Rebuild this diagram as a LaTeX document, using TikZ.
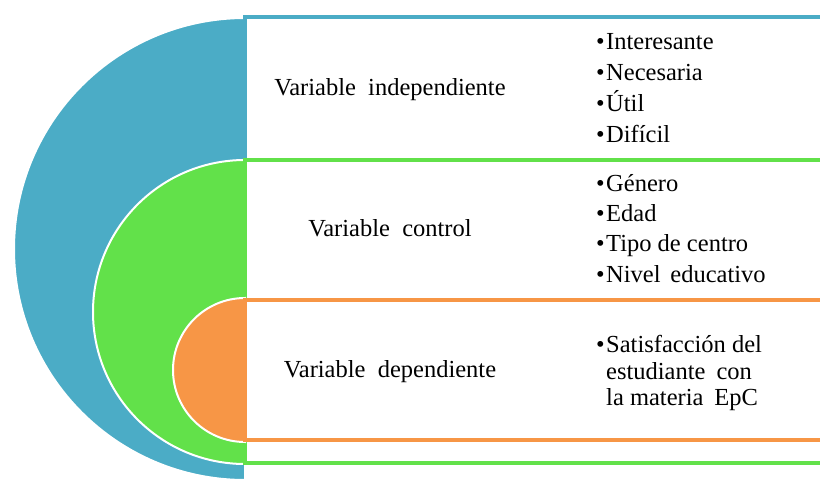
\documentclass[tikz,border=0pt]{standalone}
\usepackage{fontspec}
\setmainfont{Liberation Serif}
\newfontfamily\tnr{Liberation Serif}
\definecolor{cblue}{HTML}{4BACC6}
\definecolor{cgreen}{HTML}{62E14A}
\definecolor{corange}{HTML}{F79646}
\begin{document}
\begin{tikzpicture}[x=1pt,y=-1pt,
  halfdisc/.style={draw=white,line width=2pt},
  band/.style={fill=white,line width=3.6pt},
  lbl/.style={font=\tnr\fontsize{24.5}{30}\selectfont,anchor=base,inner sep=0pt},
  item/.style={font=\tnr\fontsize{24.5}{30}\selectfont,anchor=base west,inner sep=0pt}]
\useasboundingbox (0,0) rectangle (820,482);
\clip (0,0) rectangle (820,482);
% blue
\filldraw[fill=cblue,halfdisc] (245,18) arc[start angle=270,end angle=90,radius=231] -- cycle;
\draw[band,draw=cblue] (245,17) rectangle (850,463);
% green
\filldraw[fill=cgreen,halfdisc] (245,160) arc[start angle=270,end angle=90,radius=152] -- cycle;
\draw[band,draw=cgreen] (245,160) rectangle (850,463);
% orange
\filldraw[fill=corange,halfdisc] (245,298) arc[start angle=270,end angle=90,radius=72] -- cycle;
\draw[band,draw=corange] (245,300) rectangle (850,440);
% labels
\node[lbl] (vi) at (390,95) {Variable\hspace{0.5em}independiente};
\node[lbl] (vc) at (390,236) {Variable\hspace{0.5em}control};
\node[lbl] (vd) at (390,377) {Variable\hspace{0.5em}dependiente};
% items
\node[item] (i1) at (606,49) {\llap{•\kern1.5pt}Interesante};
\node[item] (i2) at (606,80) {\llap{•\kern1.5pt}Necesaria};
\node[item] (i3) at (606,111) {\llap{•\kern1.5pt}Útil};
\node[item] (i4) at (606,142) {\llap{•\kern1.5pt}Difícil};
\node[item] (c1) at (606,191) {\llap{•\kern1.5pt}Género};
\node[item] (c2) at (606,221) {\llap{•\kern1.5pt}Edad};
\node[item] (c3) at (606,251) {\llap{•\kern1.5pt}Tipo de centro};
\node[item] (c4) at (606,282) {\llap{•\kern1.5pt}Nivel\hspace{0.4em}educativo};
\node[item] (d1) at (606,352) {\llap{•\kern1.5pt}Satisfacción del};
\node[item] (d2) at (606,379) {estudiante\hspace{0.45em}con};
\node[item] (d3) at (606,405) {la materia\hspace{0.45em}EpC};
\end{tikzpicture}
\end{document}
